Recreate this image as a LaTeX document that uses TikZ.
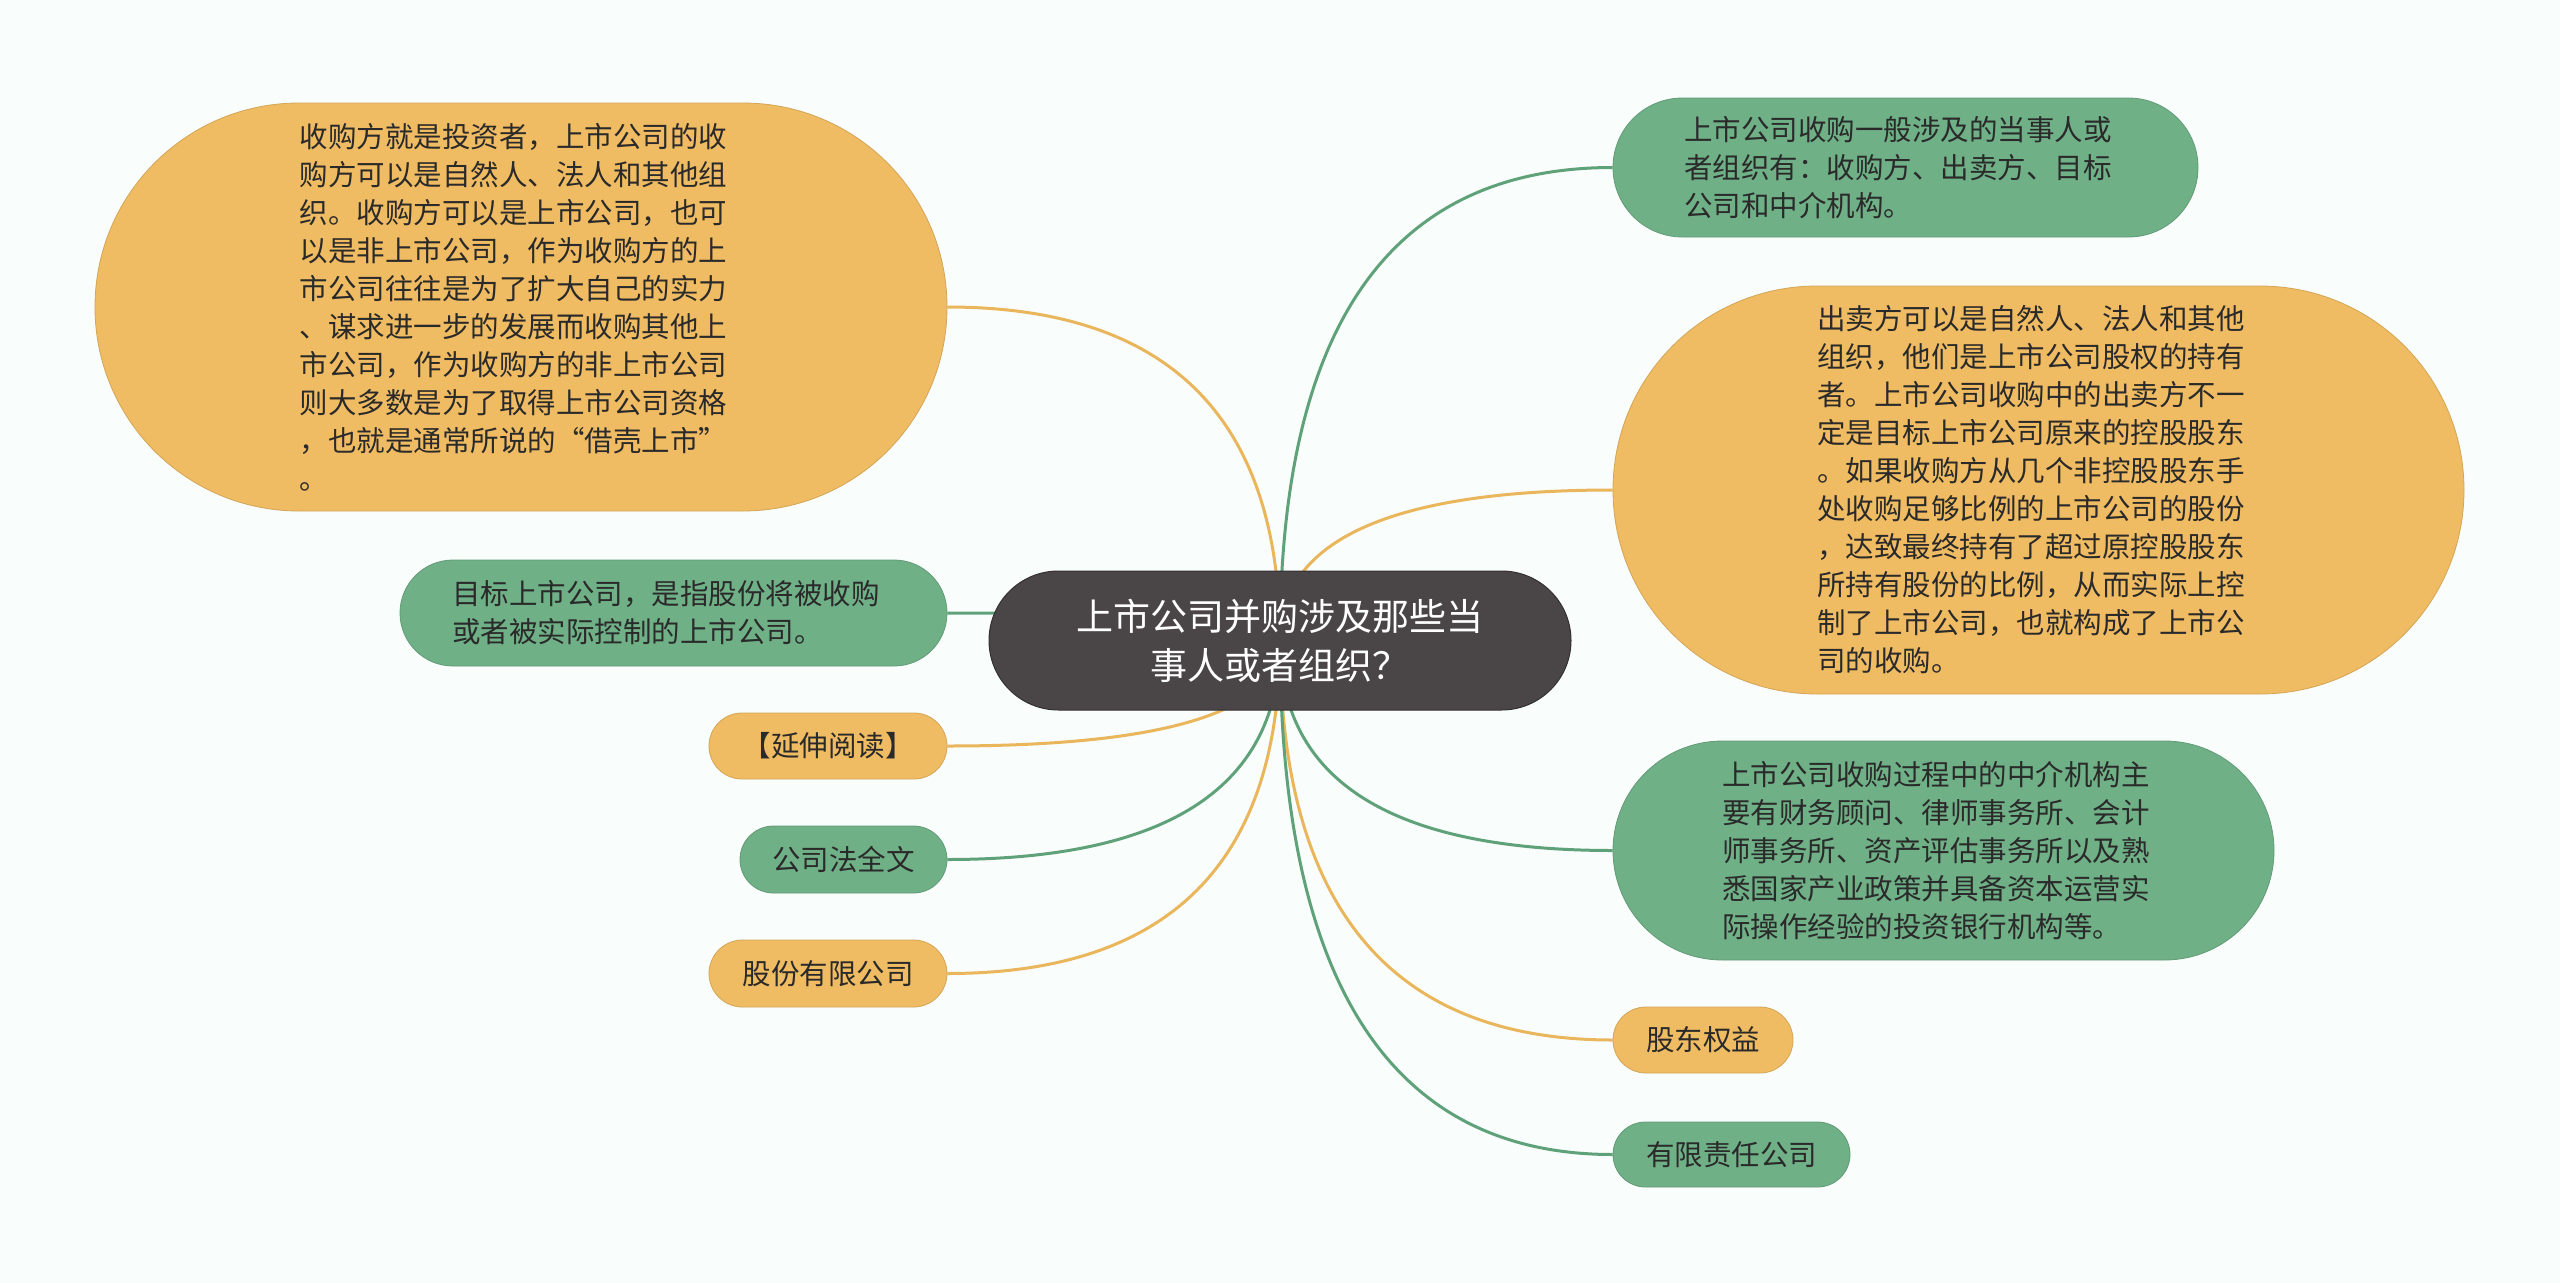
\documentclass[tikz,border=0pt]{standalone}
\usepackage{fontspec}
\setmainfont{Noto Sans CJK SC}
\usetikzlibrary{calc}
\pgfdeclarelayer{bgl}
\pgfdeclarelayer{links}
\pgfsetlayers{bgl,links,main}
\definecolor{bgc}{HTML}{F9FDFC}
\definecolor{ylw}{HTML}{F0BC63}
\definecolor{ylwline}{HTML}{EAB65C}
\definecolor{grn}{HTML}{6FB087}
\definecolor{grnline}{HTML}{5FA27A}
\definecolor{rootc}{HTML}{4A4546}
\definecolor{txt}{HTML}{2A2A2A}
\tikzset{
  box/.style={inner sep=0pt, align=left, text=txt, font=\fontsize{28.5}{38}\selectfont},
  para/.style={text width=443pt},
  ybox/.style={box, fill=ylw, draw=ylw!88!black, line width=0.8pt},
  gbox/.style={box, fill=grn, draw=grn!88!black, line width=0.8pt},
  rootbox/.style={inner sep=0pt, align=center, text=white, fill=rootc, draw=rootc!70!black, line width=1pt, font=\fontsize{37}{49}\selectfont},
  ylink/.style={draw=ylwline, line width=3pt},
  glink/.style={draw=grnline, line width=3pt},
}
\newcommand{\mmlink}[2]{\draw[#1] (root.center) .. controls ($(root.center)!0.6667!(root.center|-#2)$) and ($(#2)!0.6667!(root.center|-#2)$) .. (#2);}
\begin{document}
\begin{tikzpicture}[x=1pt,y=-1pt]
\useasboundingbox (0,0) rectangle (2560,1283);
\begin{pgfonlayer}{bgl}
\fill[bgc] (0,0) rectangle (2560,1283);
\end{pgfonlayer}

\node[rootbox, minimum width=582pt, minimum height=139pt, rounded corners=69.5pt] (root) at (1280,640.5)
  {上市公司并购涉及那些当\\事人或者组织？};

% left side
\node[ybox, para, minimum width=852pt, minimum height=408pt, rounded corners=204pt] (tl) at (521,307)
  {收购方就是投资者，上市公司的收\\购方可以是自然人、法人和其他组\\织。收购方可以是上市公司，也可\\以是非上市公司，作为收购方的上\\市公司往往是为了扩大自己的实力\\、谋求进一步的发展而收购其他上\\市公司，作为收购方的非上市公司\\则大多数是为了取得上市公司资格\\，也就是通常所说的“借壳上市”\\。};
\node[gbox, para, minimum width=547pt, minimum height=106pt, rounded corners=53pt] (lg) at (673.5,613)
  {目标上市公司，是指股份将被收购\\或者被实际控制的上市公司。};
\node[ybox, minimum width=238pt, minimum height=66pt, rounded corners=33pt] (ext) at (828,746)
  {【延伸阅读】};
\node[gbox, minimum width=207pt, minimum height=67pt, rounded corners=33.5pt] (gsf) at (843.5,859.5)
  {公司法全文};
\node[ybox, minimum width=238pt, minimum height=67pt, rounded corners=33.5pt] (gfy) at (828,973.5)
  {股份有限公司};

% right side
\node[gbox, para, minimum width=585pt, minimum height=139pt, rounded corners=69.5pt] (tr) at (1905.5,167.5)
  {上市公司收购一般涉及的当事人或\\者组织有：收购方、出卖方、目标\\公司和中介机构。};
\node[ybox, para, minimum width=851pt, minimum height=408pt, rounded corners=204pt] (ry) at (2038.5,490)
  {出卖方可以是自然人、法人和其他\\组织，他们是上市公司股权的持有\\者。上市公司收购中的出卖方不一\\定是目标上市公司原来的控股股东\\。如果收购方从几个非控股股东手\\处收购足够比例的上市公司的股份\\，达致最终持有了超过原控股股东\\所持有股份的比例，从而实际上控\\制了上市公司，也就构成了上市公\\司的收购。};
\node[gbox, para, minimum width=661pt, minimum height=219pt, rounded corners=109.5pt] (rg) at (1943.5,850.5)
  {上市公司收购过程中的中介机构主\\要有财务顾问、律师事务所、会计\\师事务所、资产评估事务所以及熟\\悉国家产业政策并具备资本运营实\\际操作经验的投资银行机构等。};
\node[ybox, minimum width=180pt, minimum height=66pt, rounded corners=33pt] (gd) at (1703,1040)
  {股东权益};
\node[gbox, minimum width=237pt, minimum height=65pt, rounded corners=32.5pt] (yx) at (1731.5,1154.5)
  {有限责任公司};

\begin{pgfonlayer}{links}
\mmlink{ylink}{tl.east}
\mmlink{glink}{lg.east}
\mmlink{ylink}{ext.east}
\mmlink{glink}{gsf.east}
\mmlink{ylink}{gfy.east}
\mmlink{glink}{tr.west}
\mmlink{ylink}{ry.west}
\mmlink{glink}{rg.west}
\mmlink{ylink}{gd.west}
\mmlink{glink}{yx.west}
\end{pgfonlayer}
\end{tikzpicture}
\end{document}
